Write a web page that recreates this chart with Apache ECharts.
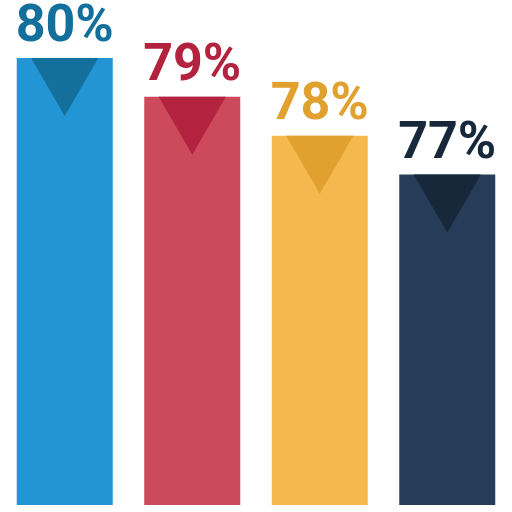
<!DOCTYPE html>
<html><head><meta charset="utf-8">
<script src="https://cdn.jsdelivr.net/npm/echarts@6/dist/echarts.min.js"></script>
<style>html,body{margin:0;padding:0;background:#fff}#c{width:512px;height:512px}</style>
</head><body><div id="c"></div>
<script>
const categories = ['A', 'B', 'C', 'D'];
const values = [80, 79, 78, 77];
const barColors = ['#2395d5', '#cd4a5d', '#f4b84f', '#273c59'];
const accentColors = ['#136f9b', '#b3233f', '#e0a12e', '#162839'];

const chart = echarts.init(document.getElementById('c'));
chart.setOption({
  animation: false,
  grid: { left: 1, right: 1, top: 58, bottom: 7 },
  xAxis: { type: 'category', data: categories, show: false },
  yAxis: { type: 'value', min: 68.5, max: 80, show: false },
  series: [
    {
      type: 'bar',
      barWidth: 96,
      data: values.map((v, i) => ({
        value: v,
        itemStyle: { color: barColors[i] },
        label: { color: accentColors[i] }
      })),
      label: {
        show: true,
        position: 'top',
        distance: 4,
        fontFamily: 'Roboto',
        fontWeight: 'bold',
        fontSize: 52,
        formatter: p => p.value + '%'
      }
    },
    {
      type: 'custom',
      data: values.map((v, i) => [i, v]),
      renderItem: function (params, api) {
        const top = api.coord([api.value(0), api.value(1)]);
        const band = api.size([1, 0])[0];
        const w = band * 0.527;
        const h = 58;
        return {
          type: 'polygon',
          shape: { points: [[top[0] - w / 2, top[1]], [top[0] + w / 2, top[1]], [top[0], top[1] + h]] },
          style: { fill: accentColors[params.dataIndex] }
        };
      },
      z: 3
    }
  ]
});
</script>
</body></html>
